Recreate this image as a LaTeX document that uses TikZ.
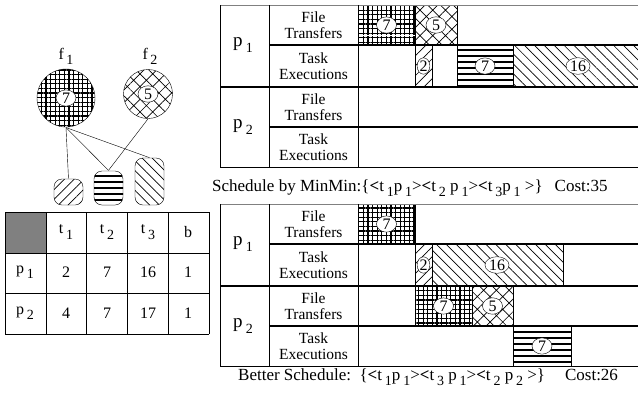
\documentclass[tikz,border=0pt]{standalone}
\usepackage{fontspec}
\setmainfont{Liberation Serif}
\usetikzlibrary{patterns.meta, shapes.geometric}

\newcommand{\lowsub}[1]{\,\raisebox{-0.7ex}{\fontsize{14}{14}\selectfont #1}}

\tikzset{
  gridfill/.style={pattern={Hatch[angle=0, distance=4.6pt, line width=1.1pt]}},
  crossfill/.style={pattern={Hatch[angle=45, distance=9pt, line width=0.7pt]}},
  nefill/.style={pattern={Lines[angle=45, distance=7pt, line width=0.7pt]}},
  hfill/.style={pattern={Lines[angle=0, distance=6pt, line width=1.3pt]}},
  nwfill/.style={pattern={Lines[angle=-45, distance=7pt, line width=0.7pt]}},
  tag/.style={draw, ellipse, fill=white, inner sep=0.5pt, minimum width=20pt, minimum height=14pt},
  taskshape/.style={draw, rounded corners=8pt, minimum width=29pt},
  lab/.style={align=center, font=\fontsize{15.5}{16.5}\selectfont},
  cell/.style={font=\fontsize{16}{17}\selectfont},
  block/.style={draw, line width=0.8pt},
  rowline/.style={line width=1.5pt},
  pline/.style={line width=2pt}
}

\begin{document}
\begin{tikzpicture}[x=1pt, y=-1pt, font=\fontsize{16}{17}\selectfont]
    \useasboundingbox (0,0) rectangle (638,392);

    % files and tasks
    \node[cell] (f1lab) at (66,56) {f\lowsub{1}};
    \node[cell] (f2lab) at (150,56) {f\lowsub{2}};
    \node[draw, circle, gridfill, minimum size=58pt] (f1) at (66,98) {};
    \node[draw, circle, crossfill, minimum size=49pt] (f2) at (148,94) {};
    \node[tag] (f1tag) at (f1) {7};
    \node[tag] (f2tag) at (f2) {5};
    \node[taskshape, nefill, minimum height=26pt] (t1) at (68.5,192) {};
    \node[taskshape, hfill, minimum height=34pt] (t2) at (108.5,188) {};
    \node[taskshape, nwfill, minimum height=47pt] (t3) at (149.5,181.5) {};
    \draw (f1.south) -- (t1.north);
    \draw (f1.south) -- (t2.north);
    \draw (f1.south) -- (t3.north);
    \draw (f2.south) -- (t2.north);

    % cost table
    \fill[gray] (5,212) rectangle (46,253);
    \foreach \x in {5,46,86,127,168,209}
        \draw[line width=0.9pt] (\x,212) -- (\x,334);
    \foreach \y in {212,253,293,334}
        \draw[line width=0.9pt] (5,\y) -- (209,\y);
    \node[cell] (ht1) at (66,232) {t\lowsub{1}};
    \node[cell] (ht2) at (107,232) {t\lowsub{2}};
    \node[cell] (ht3) at (148,232) {t\lowsub{3}};
    \node[cell] (hb) at (188,232) {b};
    \node[cell] (rp1) at (25,272) {p\lowsub{1}};
    \node[cell] (c11) at (66,272) {2};
    \node[cell] (c12) at (107,272) {7};
    \node[cell] (c13) at (148,272) {16};
    \node[cell] (c14) at (188,272) {1};
    \node[cell] (rp2) at (25,313) {p\lowsub{2}};
    \node[cell] (c21) at (66,313) {4};
    \node[cell] (c22) at (107,313) {7};
    \node[cell] (c23) at (148,313) {17};
    \node[cell] (c24) at (188,313) {1};

    % schedule by MinMin
    \draw[block, gridfill] (358,5) rectangle (415,45);
    \draw[block, crossfill] (415,5) rectangle (457,45);
    \draw[block, nefill] (415,45) rectangle (432,87);
    \draw[block, hfill] (457,45) rectangle (513,87);
    \draw[block, nwfill] (513,45) rectangle (645,87);
    \node[tag] (a7) at (386.5,25) {7};
    \node[tag] (a5) at (436,25) {5};
    \node[tag, minimum width=10pt] (a2) at (423.5,66) {2};
    \node[tag] (b7) at (485,66) {7};
    \node[tag] (b16) at (578,66) {16};
    \draw[gray, line width=0.8pt] (220,5) -- (638,5);
    \draw[line width=0.9pt] (220,5) -- (220,167) -- (638,167);
    \draw[line width=0.9pt] (269,5) -- (269,167);
    \draw[line width=0.9pt] (358,5) -- (358,167);
    \draw[rowline] (269,45) -- (638,45);
    \draw[pline] (220,87) -- (638,87);
    \draw[rowline] (269,127) -- (638,127);
    \node[cell, font=\fontsize{19}{19}\selectfont] (p1a) at (243,45) {p\lowsub{1}};
    \node[cell, font=\fontsize{19}{19}\selectfont] (p2a) at (243,127) {p\lowsub{2}};
    \node[lab] (fa1) at (313.5,25) {File\\Transfers};
    \node[lab] (ea1) at (313.5,66) {Task\\Executions};
    \node[lab] (fa2) at (313.5,107) {File\\Transfers};
    \node[lab] (ea2) at (313.5,147) {Task\\Executions};
    \node[cell, anchor=west, font=\fontsize{17}{18}\selectfont, inner sep=1pt] (cap1) at (211,188) {Schedule by MinMin:\{\textbf{<}t\lowsub{1}p\lowsub{1}>\textbf{<}t\lowsub{2} p\lowsub{1}>\textbf{<}t\lowsub{3}p\lowsub{1} >\}\hspace{12pt}Cost:35};

    % better schedule
    \draw[block, gridfill] (358,204) rectangle (415,244);
    \draw[block, nefill] (415,244) rectangle (432,286);
    \draw[block, nwfill] (432,244) rectangle (563,286);
    \draw[block, gridfill] (415,286) rectangle (472,326);
    \draw[block, crossfill] (472,286) rectangle (513,326);
    \draw[block, hfill] (513,326) rectangle (571,366);
    \node[tag] (c7) at (386.5,224) {7};
    \node[tag, minimum width=10pt] (c2) at (423.5,265) {2};
    \node[tag] (c16) at (497,265) {16};
    \node[tag] (d7) at (443.5,306) {7};
    \node[tag] (d5) at (492.5,306) {5};
    \node[tag] (e7) at (542,346) {7};
    \draw[gray, line width=0.8pt] (220,204) -- (638,204);
    \draw[line width=0.9pt] (220,204) -- (220,366) -- (638,366);
    \draw[line width=0.9pt] (269,204) -- (269,366);
    \draw[line width=0.9pt] (358,204) -- (358,366);
    \draw[rowline] (269,244) -- (638,244);
    \draw[pline] (220,286) -- (638,286);
    \draw[rowline] (269,326) -- (638,326);
    \node[cell, font=\fontsize{19}{19}\selectfont] (p1b) at (243,244) {p\lowsub{1}};
    \node[cell, font=\fontsize{19}{19}\selectfont] (p2b) at (243,326) {p\lowsub{2}};
    \node[lab] (fb1) at (313.5,224) {File\\Transfers};
    \node[lab] (eb1) at (313.5,265) {Task\\Executions};
    \node[lab] (fb2) at (313.5,306) {File\\Transfers};
    \node[lab] (eb2) at (313.5,346) {Task\\Executions};
    \node[cell, anchor=west, font=\fontsize{17}{18}\selectfont, inner sep=1pt] (cap2) at (237,377) {Better Schedule:\enspace\{\textbf{<}t\lowsub{1}p\lowsub{1}>\textbf{<}t\lowsub{3} p\lowsub{1}>\textbf{<}t\lowsub{2} p\lowsub{2} >\}\hspace{20pt}Cost:26};
\end{tikzpicture}
\end{document}
